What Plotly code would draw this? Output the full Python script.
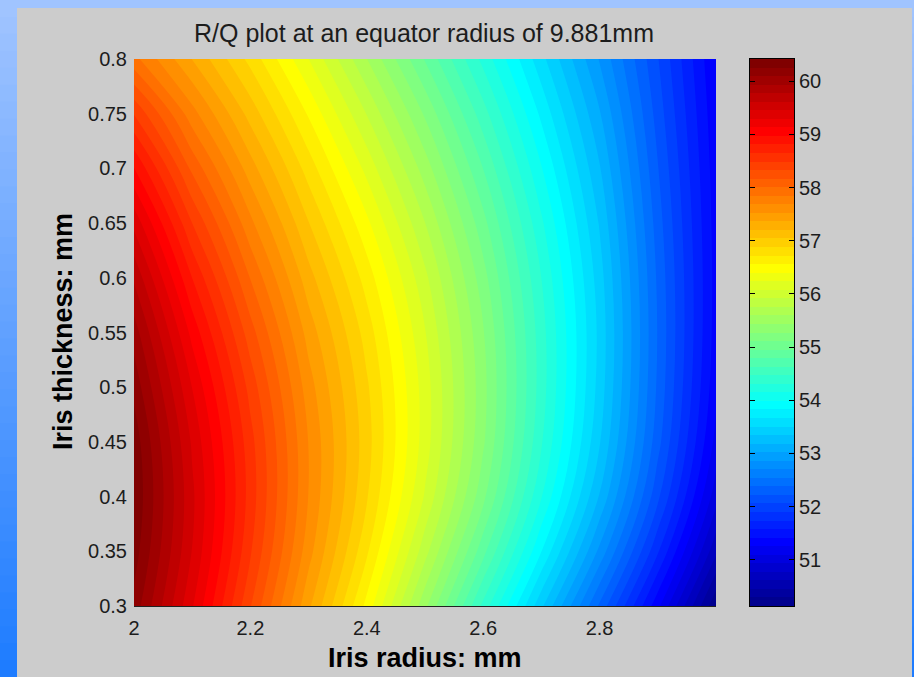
import plotly.graph_objects as go

# ---- data -------------------------------------------------------------
iris_radius = [2.0, 2.1, 2.2, 2.3, 2.4, 2.5, 2.6, 2.7, 2.8, 2.9, 3.0]
iris_thickness = [0.30, 0.35, 0.40, 0.45, 0.50, 0.55, 0.60, 0.65, 0.70, 0.75, 0.80]

# R/Q values, one row per iris thickness (bottom to top), columns follow iris_radius
rq = [
    [60.20, 59.31, 58.34, 57.40, 56.51, 55.48, 54.42, 53.38, 52.35, 51.30, 50.15],  # 0.30
    [60.34, 59.45, 58.51, 57.59, 56.75, 55.82, 54.85, 53.83, 52.82, 51.76, 50.65],  # 0.35
    [60.40, 59.49, 58.58, 57.68, 56.90, 56.06, 55.16, 54.16, 53.17, 52.10, 51.00],  # 0.40
    [60.36, 59.43, 58.55, 57.68, 56.95, 56.16, 55.30, 54.33, 53.36, 52.28, 51.20],  # 0.45
    [60.21, 59.29, 58.43, 57.60, 56.91, 56.16, 55.33, 54.39, 53.44, 52.35, 51.30],  # 0.50
    [60.02, 59.08, 58.24, 57.46, 56.81, 56.09, 55.29, 54.38, 53.46, 52.37, 51.34],  # 0.55
    [59.75, 58.81, 58.00, 57.27, 56.65, 55.96, 55.18, 54.31, 53.42, 52.35, 51.35],  # 0.60
    [59.41, 58.49, 57.73, 57.05, 56.44, 55.76, 55.01, 54.18, 53.33, 52.30, 51.34],  # 0.65
    [58.98, 58.13, 57.44, 56.81, 56.19, 55.52, 54.79, 54.00, 53.20, 52.23, 51.32],  # 0.70
    [58.48, 57.75, 57.14, 56.54, 55.91, 55.25, 54.54, 53.79, 53.04, 52.15, 51.29],  # 0.75
    [57.90, 57.36, 56.83, 56.24, 55.60, 54.94, 54.26, 53.56, 52.85, 52.07, 51.25],  # 0.80
]

x_ticks = [2.0, 2.2, 2.4, 2.6, 2.8]
y_ticks = [0.30, 0.35, 0.40, 0.45, 0.50, 0.55, 0.60, 0.65, 0.70, 0.75, 0.80]
cbar_ticks = [51, 52, 53, 54, 55, 56, 57, 58, 59, 60]

rq_min, rq_max = 50.13, 60.42
n_colors = 64

title_text = "R/Q plot at an equator radius of 9.881mm"
x_label = "Iris radius: mm"
y_label = "Iris thickness: mm"

# ---- jet colormap (64 entries) ----------------------------------------
def jet_entry(i):
    k = i + 1
    if k <= 8:
        r, g, b = 0.0, 0.0, (k + 8) / 16
    elif k <= 24:
        r, g, b = 0.0, (k - 8) / 16, 1.0
    elif k <= 40:
        r, g, b = (k - 24) / 16, 1.0, (40 - k) / 16
    elif k <= 56:
        r, g, b = 1.0, (56 - k) / 16, 0.0
    else:
        r, g, b = (72 - k) / 16, 0.0, 0.0
    return "rgb(%d,%d,%d)" % (round(r * 255), round(g * 255), round(b * 255))

jet = [[i / (n_colors - 1), jet_entry(i)] for i in range(n_colors)]

step = (rq_max - rq_min) / n_colors
band_centres = [rq_min + (i + 0.5) * step for i in range(n_colors)]

# ---- geometry (pixels) ------------------------------------------------
W, H = 914, 677
L, R, T, B = 134, 120, 59, 71
pw, ph = W - L - R, H - T - B
main_right = 716
cbar_left, cbar_right = 750, 794

def px(xp):
    return (xp - L) / pw

def py(yp):
    return (H - B - yp) / ph

font_family = "Liberation Sans, Arial, sans-serif"
ink = "#1c1c1c"

fig = go.Figure()

fig.add_trace(go.Contour(
    x=iris_radius, y=iris_thickness, z=rq,
    colorscale=jet,
    contours=dict(coloring="fill", showlines=False,
                  start=rq_min + step, end=rq_max - step, size=step),
    line=dict(width=0),
    showscale=False,
    xaxis="x", yaxis="y",
    hoverinfo="skip",
))

# colour bar drawn as its own axes so ticks sit on both edges
fig.add_trace(go.Heatmap(
    x=[0.5], y=band_centres, z=[[c] for c in band_centres],
    colorscale=jet, zmin=band_centres[0], zmax=band_centres[-1],
    showscale=False, xaxis="x2", yaxis="y2", hoverinfo="skip",
))

# background: blue gradient frame with grey panel
shapes = []
n_strips = 40
for i in range(n_strips):
    f = i / (n_strips - 1)
    r = round(160 + (30 - 160) * f)
    g = round(196 + (124 - 196) * f)
    y0 = i * H / n_strips
    y1 = (i + 1) * H / n_strips + 1
    shapes.append(dict(type="rect", xref="paper", yref="paper",
                       x0=px(-5), x1=px(W + 5), y0=py(y1), y1=py(y0),
                       fillcolor="rgb(%d,%d,255)" % (r, g), line=dict(width=0),
                       layer="below"))
shapes.append(dict(type="rect", xref="paper", yref="paper",
                   x0=px(17), x1=px(912), y0=py(H + 5), y1=py(8),
                   fillcolor="#cccccc", line=dict(width=0), layer="below"))

fig.update_layout(
    width=W, height=H,
    margin=dict(l=L, r=R, t=T, b=B, pad=0),
    paper_bgcolor="rgb(120,170,255)",
    plot_bgcolor="rgba(0,0,0,0)",
    shapes=shapes,
    font=dict(family=font_family, color=ink, size=20),
    showlegend=False,
    title=dict(text=title_text, x=px(424), xref="paper", xanchor="center",
               y=1 - 33 / H, yref="container", yanchor="middle",
               font=dict(size=25, color=ink, family=font_family)),
    xaxis=dict(domain=[0, px(main_right)], range=[2, 3], tickvals=x_ticks,
               ticks="", showgrid=False, zeroline=False,
               showline=True, linecolor="#222222", linewidth=1, mirror=False,
               tickfont=dict(size=20, color=ink), ticklabelstandoff=4,
               anchor="y"),
    yaxis=dict(domain=[0, 1], range=[0.3, 0.8], tickvals=y_ticks,
               ticks="", showgrid=False, zeroline=False, showline=False,
               tickfont=dict(size=20, color=ink), ticklabelstandoff=6,
               anchor="x"),
    xaxis2=dict(domain=[px(cbar_left), px(cbar_right)], range=[0, 1],
                showticklabels=False, ticks="", showgrid=False, zeroline=False,
                showline=True, linecolor="black", linewidth=1, mirror=True,
                anchor="y2"),
    yaxis2=dict(domain=[0, 1], range=[rq_min, rq_max], tickvals=cbar_ticks,
                side="right", ticks="inside", ticklen=5, tickcolor="black",
                tickwidth=1, showgrid=False, zeroline=False,
                showline=True, linecolor="black", linewidth=1, mirror="ticks",
                tickfont=dict(size=20, color=ink), ticklabelstandoff=0,
                anchor="x2"),
    annotations=[
        dict(text="<b>%s</b>" % x_label, xref="paper", yref="paper",
             x=px(425), y=py(658), xanchor="center", yanchor="middle",
             showarrow=False, font=dict(size=27, color="black", family=font_family)),
        dict(text="<b>%s</b>" % y_label, xref="paper", yref="paper",
             x=px(63), y=py(332), xanchor="center", yanchor="middle",
             textangle=-90, showarrow=False,
             font=dict(size=27, color="black", family=font_family)),
    ],
)

fig.write_html("out.html")
